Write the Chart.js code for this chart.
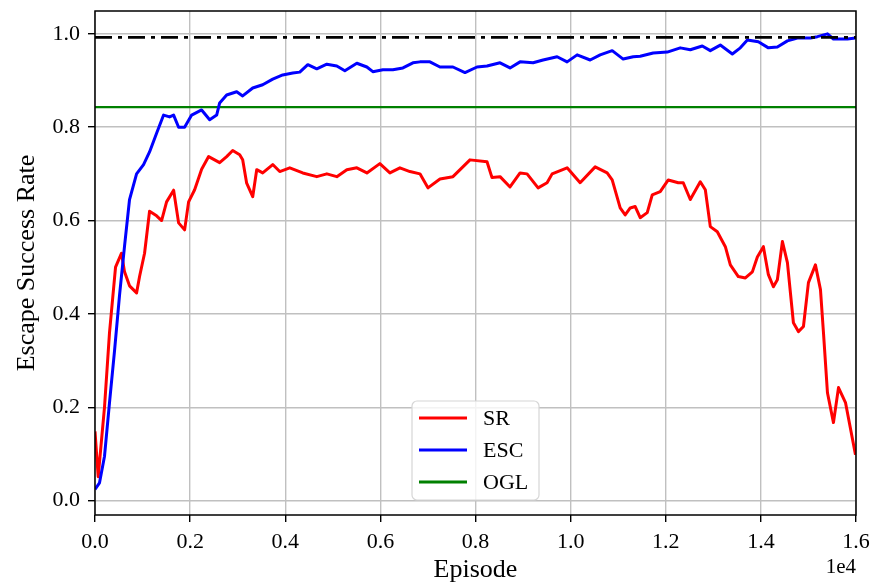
<!DOCTYPE html>
<html>
<head>
<meta charset="utf-8">
<script src="https://cdn.jsdelivr.net/npm/chart.js@4.4.1/dist/chart.umd.min.js"></script>
<style>
  html, body { margin: 0; padding: 0; background: #fff; }
  #wrap { width: 871px; height: 586px; }
</style>
</head>
<body>
<div id="wrap"><canvas id="escapeChart" width="871" height="586"></canvas></div>
<script>
// episodes / values
var srEpisodes = [0, 67, 200, 305, 432, 558, 621, 726, 874, 937, 1042, 1147, 1295, 1400, 1505, 1653, 1758, 1884, 1968, 2095, 2242, 2389, 2621, 2768, 2895, 3042, 3105, 3189, 3316, 3400, 3526, 3737, 3884, 4095, 4368, 4663, 4874, 5084, 5295, 5505, 5716, 5989, 6200, 6411, 6621, 6832, 7000, 7253, 7526, 7884, 8242, 8347, 8516, 8726, 8937, 9084, 9316, 9505, 9611, 9926, 10200, 10516, 10768, 10874, 11042, 11147, 11253, 11358, 11463, 11611, 11716, 11884, 12053, 12263, 12368, 12516, 12726, 12832, 12937, 13084, 13253, 13358, 13526, 13674, 13821, 13926, 14053, 14158, 14263, 14347, 14453, 14558, 14684, 14789, 14895, 15000, 15147, 15253, 15316, 15400, 15526, 15632, 15779, 15989];
var srValues = [0.148, 0.051, 0.20, 0.36, 0.50, 0.53, 0.49, 0.46, 0.445, 0.48, 0.53, 0.62, 0.61, 0.60, 0.64, 0.665, 0.595, 0.58, 0.64, 0.666, 0.71, 0.737, 0.724, 0.737, 0.75, 0.741, 0.73, 0.68, 0.651, 0.709, 0.702, 0.72, 0.705, 0.713, 0.702, 0.694, 0.70, 0.694, 0.709, 0.713, 0.702, 0.722, 0.702, 0.713, 0.705, 0.70, 0.670, 0.689, 0.694, 0.730, 0.726, 0.692, 0.694, 0.672, 0.702, 0.70, 0.670, 0.681, 0.70, 0.713, 0.681, 0.715, 0.702, 0.687, 0.627, 0.612, 0.627, 0.63, 0.606, 0.617, 0.655, 0.662, 0.687, 0.681, 0.681, 0.645, 0.683, 0.666, 0.587, 0.576, 0.544, 0.505, 0.48, 0.477, 0.49, 0.522, 0.544, 0.484, 0.458, 0.473, 0.555, 0.51, 0.381, 0.362, 0.373, 0.467, 0.505, 0.452, 0.36, 0.231, 0.167, 0.242, 0.21, 0.098];

var escEpisodes = [0, 95, 200, 305, 410, 516, 621, 726, 874, 1021, 1147, 1295, 1442, 1568, 1653, 1758, 1884, 2032, 2242, 2411, 2558, 2621, 2768, 2979, 3105, 3316, 3526, 3737, 3947, 4158, 4305, 4474, 4663, 4874, 5084, 5253, 5505, 5716, 5842, 6053, 6263, 6474, 6684, 6832, 7042, 7253, 7526, 7779, 8032, 8242, 8516, 8726, 8937, 9211, 9421, 9716, 9926, 10137, 10411, 10621, 10874, 11105, 11316, 11463, 11737, 12032, 12305, 12516, 12768, 12937, 13147, 13400, 13568, 13716, 13947, 14158, 14347, 14558, 14768, 15042, 15189, 15400, 15526, 15821, 15989];
var escValues = [0.024, 0.038, 0.095, 0.21, 0.32, 0.44, 0.545, 0.645, 0.70, 0.72, 0.747, 0.787, 0.826, 0.822, 0.826, 0.80, 0.80, 0.826, 0.837, 0.816, 0.826, 0.852, 0.869, 0.876, 0.867, 0.884, 0.891, 0.903, 0.912, 0.916, 0.918, 0.934, 0.925, 0.935, 0.931, 0.921, 0.937, 0.929, 0.919, 0.923, 0.923, 0.927, 0.938, 0.940, 0.94, 0.929, 0.929, 0.917, 0.929, 0.931, 0.938, 0.927, 0.940, 0.938, 0.944, 0.951, 0.940, 0.955, 0.944, 0.955, 0.964, 0.946, 0.951, 0.952, 0.959, 0.961, 0.970, 0.966, 0.974, 0.964, 0.976, 0.957, 0.970, 0.987, 0.983, 0.970, 0.972, 0.985, 0.991, 0.991, 0.994, 1.0, 0.989, 0.989, 0.991];

var oglLevel = 0.843;
var refLevel = 0.9925;
var xRange = [0, 16000];

var xTicks = ['0.0', '0.2', '0.4', '0.6', '0.8', '1.0', '1.2', '1.4', '1.6'];

function toPoints(xs, ys) {
    return xs.map(function(x, i) { return { x: x, y: ys[i] }; });
}

var serif = '"Liberation Serif", "Times New Roman", serif';

// legend drawn inside the plot, like the matplotlib one
var legendPlugin = {
    id: 'innerLegend',
    afterDatasetsDraw: function(chart) {
        var ctx = chart.ctx;
        var items = chart.data.datasets.filter(function(d) { return d.inLegend; });
        var x = 412, y = 401, w = 127, h = 99, r = 5;
        ctx.save();
        ctx.beginPath();
        ctx.moveTo(x + r, y);
        ctx.arcTo(x + w, y, x + w, y + h, r);
        ctx.arcTo(x + w, y + h, x, y + h, r);
        ctx.arcTo(x, y + h, x, y, r);
        ctx.arcTo(x, y, x + w, y, r);
        ctx.closePath();
        ctx.fillStyle = 'rgba(255,255,255,0.8)';
        ctx.fill();
        ctx.strokeStyle = '#d6d6d6';
        ctx.lineWidth = 1.2;
        ctx.stroke();
        ctx.font = '22px ' + serif;
        ctx.textBaseline = 'middle';
        items.forEach(function(d, i) {
            var ly = 418 + i * 32;
            ctx.strokeStyle = d.borderColor;
            ctx.lineWidth = 2.8;
            ctx.beginPath();
            ctx.moveTo(419, ly);
            ctx.lineTo(467, ly);
            ctx.stroke();
            ctx.fillStyle = '#000';
            ctx.fillText(d.label, 483, ly + 1);
        });
        ctx.restore();
    },
    afterDraw: function(chart) {
        var a = chart.chartArea;
        var ctx = chart.ctx;
        ctx.save();
        ctx.strokeStyle = '#000';
        ctx.lineWidth = 1.5;
        ctx.strokeRect(a.left, a.top, a.right - a.left, a.bottom - a.top);
        ctx.font = '21px ' + serif;
        ctx.fillStyle = '#000';
        ctx.textAlign = 'right';
        ctx.textBaseline = 'middle';
        ctx.fillText('1e4', a.right, 567);
        ctx.restore();
    }
};

var gridStyle = {
    color: '#c0c0c0',
    lineWidth: 1.4,
    tickColor: '#000',
    tickWidth: 1.4,
    tickLength: 7
};

var config = {
    type: 'line',
    data: {
        datasets: [
            {
                label: 'SR',
                data: toPoints(srEpisodes, srValues),
                borderColor: '#ff0000',
                borderWidth: 3,
                borderJoinStyle: 'round',
                inLegend: true,
                order: 3
            },
            {
                label: 'ESC',
                data: toPoints(escEpisodes, escValues),
                borderColor: '#0000ff',
                borderWidth: 3,
                borderJoinStyle: 'round',
                inLegend: true,
                order: 2
            },
            {
                label: 'OGL',
                data: toPoints(xRange, [oglLevel, oglLevel]),
                borderColor: '#008000',
                borderWidth: 2.3,
                inLegend: true,
                order: 4
            },
            {
                label: 'ref',
                data: toPoints(xRange, [refLevel, refLevel]),
                borderColor: '#000000',
                borderWidth: 2.8,
                borderDash: [17, 6, 4, 6],
                inLegend: false,
                order: 1
            }
        ]
    },
    options: {
        responsive: false,
        animation: false,
        events: [],
        layout: { padding: { top: 11, right: 15, left: 0, bottom: 0 } },
        elements: { point: { radius: 0 }, line: { tension: 0 } },
        plugins: { legend: { display: false }, tooltip: { enabled: false } },
        scales: {
            x: {
                type: 'linear',
                min: xRange[0],
                max: xRange[1],
                border: { display: false },
                grid: gridStyle,
                ticks: {
                    stepSize: 2000,
                    includeBounds: false,
                    maxRotation: 0,
                    color: '#000',
                    padding: 7,
                    font: { family: serif, size: 22 },
                    callback: function(v) { return xTicks[Math.round(v / 2000)]; }
                },
                title: {
                    display: true,
                    text: 'Episode',
                    color: '#000',
                    font: { family: serif, size: 26 },
                    padding: { top: 0, bottom: 0 }
                },
                afterFit: function(scale) {
                    scale.height = 71;
                    scale.paddingLeft = 0;
                    scale.paddingRight = 0;
                }
            },
            y: {
                min: -0.031,
                max: 1.049,
                border: { display: false },
                grid: gridStyle,
                ticks: {
                    stepSize: 0.2,
                    includeBounds: false,
                    color: '#000',
                    padding: 8,
                    font: { family: serif, size: 22 },
                    callback: function(v) { return v.toFixed(1); }
                },
                title: {
                    display: true,
                    text: 'Escape Success Rate',
                    color: '#000',
                    font: { family: serif, size: 26 },
                    padding: { top: 12, bottom: 0 }
                },
                afterFit: function(scale) {
                    scale.width = 95;
                    scale.paddingTop = 0;
                    scale.paddingBottom = 0;
                }
            }
        }
    },
    plugins: [legendPlugin]
};

var escapeChart = new Chart(document.getElementById('escapeChart'), config);
</script>
</body>
</html>
